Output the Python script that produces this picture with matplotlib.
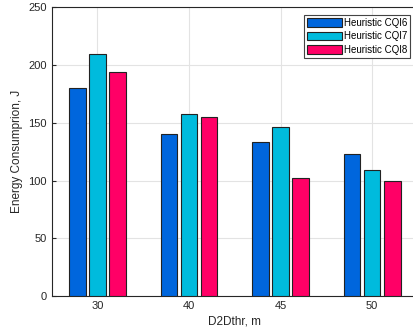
import numpy as np
import matplotlib.pyplot as plt

plt.rcParams['font.family'] = ['Liberation Sans', 'DejaVu Sans']

categories = ['30', '40', '45', '50']
cqi6 = [180, 140.5, 133.5, 123]
cqi7 = [210, 158, 146, 109.5]
cqi8 = [194, 155, 102.5, 100]
labels = ['Heuristic CQI6', 'Heuristic CQI7', 'Heuristic CQI8']
colors = ['#0066dd', '#00bbdd', '#ff0066']

fig = plt.figure(figsize=(4.13, 3.36), dpi=100)
ax = fig.add_axes([0.125, 0.119, 0.887, 0.859])

x = np.arange(1, len(categories) + 1)
w = 0.18
off = 0.22
for i, (vals, lab, c) in enumerate(zip([cqi6, cqi7, cqi8], labels, colors)):
    ax.bar(x + (i - 1) * off, vals, w, color=c, edgecolor='#222222', linewidth=0.8, label=lab, zorder=3)

ax.set_xlim(0.5, 4.5)
ax.set_ylim(0, 250)
ax.set_xticks(x)
ax.set_xticklabels(categories)
ax.set_yticks(np.arange(0, 251, 50))
ax.grid(True, color='#e3e3e3', linewidth=0.8, zorder=0)
ax.tick_params(direction='in', labelsize=8, colors='#262626', length=3)
for s in ax.spines.values():
    s.set_color('#262626')
    s.set_linewidth(0.8)
ax.set_xlabel('D2Dthr, m', fontsize=8.5, color='#262626', labelpad=3)
ax.set_ylabel('Energy Consumprion, J', fontsize=8.5, color='#262626', labelpad=4)

leg = ax.legend(loc='upper right', bbox_to_anchor=(0.978, 0.974), fontsize=7, fancybox=False,
                edgecolor='#444444', framealpha=1, handlelength=3.6, handleheight=1.0,
                handletextpad=0.2, borderpad=0.3, labelspacing=0.35, borderaxespad=0)
leg.get_frame().set_linewidth(0.8)

plt.savefig('out.png', dpi=100)
